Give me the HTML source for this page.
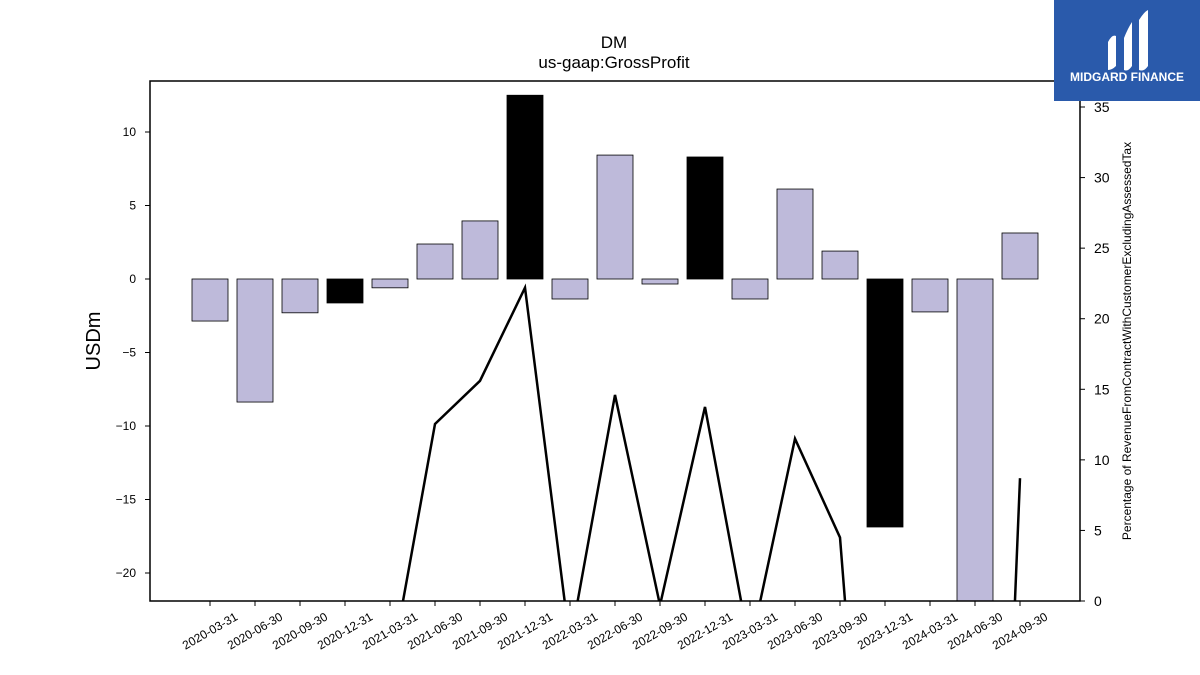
<!DOCTYPE html>
<html><head><meta charset="utf-8"><style>
html,body{margin:0;padding:0;width:1200px;height:675px;overflow:hidden;background:#fff;font-family:"Liberation Sans","DejaVu Sans",sans-serif}
svg{display:block}
</style></head><body>
<svg id="c" width="1200" height="675" xmlns="http://www.w3.org/2000/svg">
<rect width="1200" height="675" fill="#fff"/>
<text x="614" y="48" text-anchor="middle" font-size="17">DM</text>
<text x="614" y="68" text-anchor="middle" font-size="17">us-gaap:GrossProfit</text>
<g id="plot"></g>
<g>
<rect x="1054" y="0" width="146" height="101" fill="#2a5aab"/>
<path d="M1108 42 Q1112 34 1116 36 L1116 66 Q1112 70 1108 70 Z M1124 38 Q1128 28 1132 22 L1132 66 Q1128 72 1124 70 Z M1139 20 Q1144 12 1148 10 L1148 66 Q1144 72 1139 70 Z" fill="#fff"/>
<text x="1127" y="81" text-anchor="middle" font-size="12" font-weight="bold" fill="#fff">MIDGARD FINANCE</text>
</g>
</svg>
<script>
const categories=["2020-03-31","2020-06-30","2020-09-30","2020-12-31","2021-03-31","2021-06-30","2021-09-30","2021-12-31","2022-03-31","2022-06-30","2022-09-30","2022-12-31","2023-03-31","2023-06-30","2023-09-30","2023-12-31","2024-03-31","2024-06-30","2024-09-30"];
const barValues=[-2.86,-8.37,-2.3,-1.63,-0.6,2.38,3.95,12.5,-1.36,8.43,-0.34,8.3,-1.36,6.12,1.9,-16.87,-2.24,-25,3.13];
const barHighlight=[0,0,0,1,0,0,0,1,0,0,0,1,0,0,0,1,0,0,0];
const lineValues=[-5,-5,-5,-5,-5.1,12.54,15.6,22.2,-3,14.6,-0.3,13.75,-3.4,11.5,4.5,-36,-60,-69,8.7];
const leftTicks=[-20,-15,-10,-5,0,5,10];
const rightTicks=[0,5,10,15,20,25,30,35];
const X0=150,X1=1080,Y0=81,Y1=601;
const yL=v=>279-v*14.7;
const yR=v=>601-v*14.114;
const xC=i=>210+i*45;
const NS="http://www.w3.org/2000/svg";
const g=document.getElementById('plot');
function mk(t,a,p){const e=document.createElementNS(NS,t);for(const k in a)e.setAttribute(k,a[k]);(p||g).appendChild(e);return e;}
const defs=mk('defs',{});const cp=mk('clipPath',{id:'clip'},defs);mk('rect',{x:X0,y:Y0,width:X1-X0,height:Y1-Y0},cp);
const bars=mk('g',{'clip-path':'url(#clip)'});


barValues.forEach((v,i)=>{const y=Math.min(yL(0),yL(v)),h=Math.abs(yL(v)-yL(0));
const r=mk('rect',{x:xC(i)-18,y:y,width:36,height:h,fill:barHighlight[i]?'#000':'#bebada',stroke:'#000','stroke-width':0.8},bars);

});
const pts=lineValues.map((v,i)=>xC(i)+','+yR(v)).join(' ');
const ln=mk('polyline',{points:pts,fill:'none',stroke:'#000','stroke-width':2.5,'clip-path':'url(#clip)'});


const fr=mk('rect',{x:X0,y:Y0,width:X1-X0,height:Y1-Y0,fill:'none',stroke:'#000','stroke-width':1.5});


leftTicks.forEach(t=>{const y=yL(t);mk('line',{x1:X0-5,x2:X0,y1:y,y2:y,stroke:'#000'});
const tx=mk('text',{x:X0-14,y:y+4,'text-anchor':'end','font-size':12});tx.textContent=t<0?'\u2212'+(-t):t;

});
rightTicks.forEach(t=>{const y=yR(t);mk('line',{x1:X1,x2:X1+5,y1:y,y2:y,stroke:'#000'});
const tx=mk('text',{x:X1+14,y:y+5,'font-size':14});tx.textContent=t;

});
categories.forEach((c,i)=>{const x=xC(i);mk('line',{x1:x,x2:x,y1:Y1,y2:Y1+5,stroke:'#000'});
const tx=mk('text',{x:x,y:Y1+34,'text-anchor':'middle','font-size':12,transform:`rotate(-30 ${x} ${Y1+30})`});tx.textContent=c;

});
const yt=mk('text',{x:100,y:341,'text-anchor':'middle','font-size':20,transform:'rotate(-90 100 341)'});yt.textContent='USDm';


const rt=mk('text',{x:1131,y:341,'text-anchor':'middle','font-size':12,transform:'rotate(-90 1131 341)'});rt.textContent='Percentage of RevenueFromContractWithCustomerExcludingAssessedTax';


</script>
</body></html>
